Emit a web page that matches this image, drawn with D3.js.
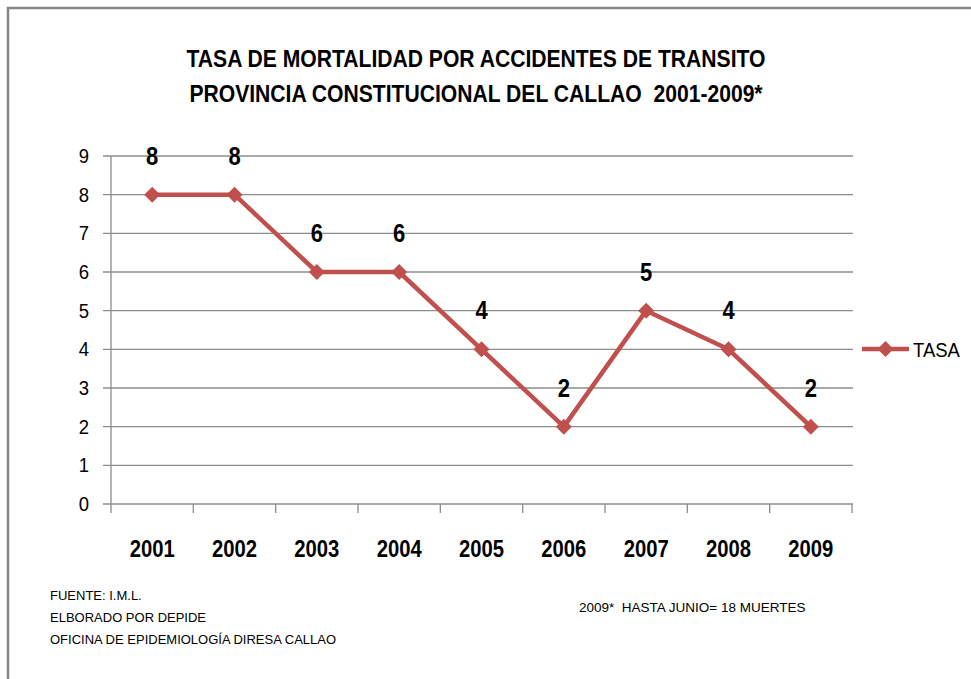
<!DOCTYPE html>
<html><head><meta charset="utf-8">
<script src="https://cdn.jsdelivr.net/npm/d3@7"></script>
<style>
body{margin:0;background:#fff;}
svg{display:block;}
text{font-family:"Liberation Sans",Arial,sans-serif;white-space:pre;}
</style></head>
<body>
<svg id="c" width="971" height="679"></svg>
<script>
const categories = ["2001","2002","2003","2004","2005","2006","2007","2008","2009"];
const tasa = [8,8,6,6,4,2,5,4,2];
const yTicks = [0,1,2,3,4,5,6,7,8,9];
const titleLines = ["TASA DE MORTALIDAD POR ACCIDENTES DE TRANSITO","PROVINCIA CONSTITUCIONAL DEL CALLAO  2001-2009*"];
const seriesName = "TASA";
const sourceLines = ["FUENTE: I.M.L.","ELBORADO POR DEPIDE","OFICINA DE EPIDEMIOLOGÍA DIRESA CALLAO"];
const note = "2009*  HASTA JUNIO= 18 MUERTES";

const svg = d3.select("#c");
const red = "#C0504D", grid = "#8c8c8c";
const SX = 0.88; // horizontal condensing to mimic a narrow face
const place = (px,py)=>`translate(${px},${py}) scale(${SX},1)`;

// border
svg.append("path").attr("d","M8,679 L8,8 L971,8").attr("fill","none").attr("stroke","#878787").attr("stroke-width",2.5);

// title
svg.selectAll("text.title").data(titleLines).join("text").attr("class","title")
  .attr("transform",(d,i)=>place(476,67+i*35)).attr("text-anchor","middle")
  .attr("font-size",24).attr("font-weight","bold").attr("fill","#000").text(d=>d);

const x = d3.scaleBand().domain(categories).range([111,852]).padding(0);
const y = d3.scaleLinear().domain([0,9]).range([504,156]);

// gridlines
svg.append("g").selectAll("line").data(yTicks).join("line")
  .attr("x1",103).attr("x2",853).attr("y1",d=>y(d)).attr("y2",d=>y(d))
  .attr("stroke",grid).attr("stroke-width",1.3);
// y axis
svg.append("line").attr("x1",111).attr("x2",111).attr("y1",y(9)).attr("y2",513).attr("stroke",grid).attr("stroke-width",1.3);
// x ticks at boundaries
const bounds = categories.map(c=>x(c)).concat([x.range()[1]]);
svg.append("g").selectAll("line").data(bounds.slice(1)).join("line")
  .attr("x1",d=>d).attr("x2",d=>d).attr("y1",504).attr("y2",513).attr("stroke",grid).attr("stroke-width",1.3);

// y labels
svg.append("g").selectAll("text").data(yTicks).join("text")
  .attr("transform",d=>place(89,y(d)+7)).attr("text-anchor","end")
  .attr("font-size",21).attr("fill","#000").text(d=>d);
// x labels
svg.append("g").selectAll("text").data(categories).join("text")
  .attr("transform",d=>place(x(d)+x.bandwidth()/2,557)).attr("text-anchor","middle")
  .attr("font-size",23).attr("font-weight","bold").attr("fill","#000").text(d=>d);

// line
const pts = categories.map((c,i)=>[x(c)+x.bandwidth()/2, y(tasa[i])]);
svg.append("path").attr("d",d3.line()(pts)).attr("fill","none").attr("stroke",red).attr("stroke-width",4.5).attr("stroke-linejoin","round");
const diamond = (cx,cy,r)=>`M${cx},${cy-r}L${cx+r},${cy}L${cx},${cy+r}L${cx-r},${cy}Z`;
svg.append("g").selectAll("path").data(pts).join("path")
  .attr("d",d=>diamond(d[0],d[1],8)).attr("fill",red);
// data labels
svg.append("g").selectAll("text").data(pts).join("text")
  .attr("transform",d=>place(d[0],d[1]-30)).attr("text-anchor","middle")
  .attr("font-size",25).attr("font-weight","bold").attr("fill","#000").text((d,i)=>tasa[i]);

// legend
svg.append("line").attr("x1",862).attr("x2",909).attr("y1",349).attr("y2",349).attr("stroke",red).attr("stroke-width",4.5);
svg.append("path").attr("d",diamond(885.5,349,8)).attr("fill",red);
svg.append("text").attr("transform",place(913,357)).attr("font-size",21).attr("fill","#000").text(seriesName);

// footnotes
svg.append("g").selectAll("text").data(sourceLines).join("text")
  .attr("x",50).attr("y",(d,i)=>600+i*22).attr("font-size",13).attr("fill","#000").text(d=>d);
svg.append("text").attr("x",579).attr("y",612).attr("font-size",13.5).attr("fill","#000").text(note);
</script>
</body></html>
